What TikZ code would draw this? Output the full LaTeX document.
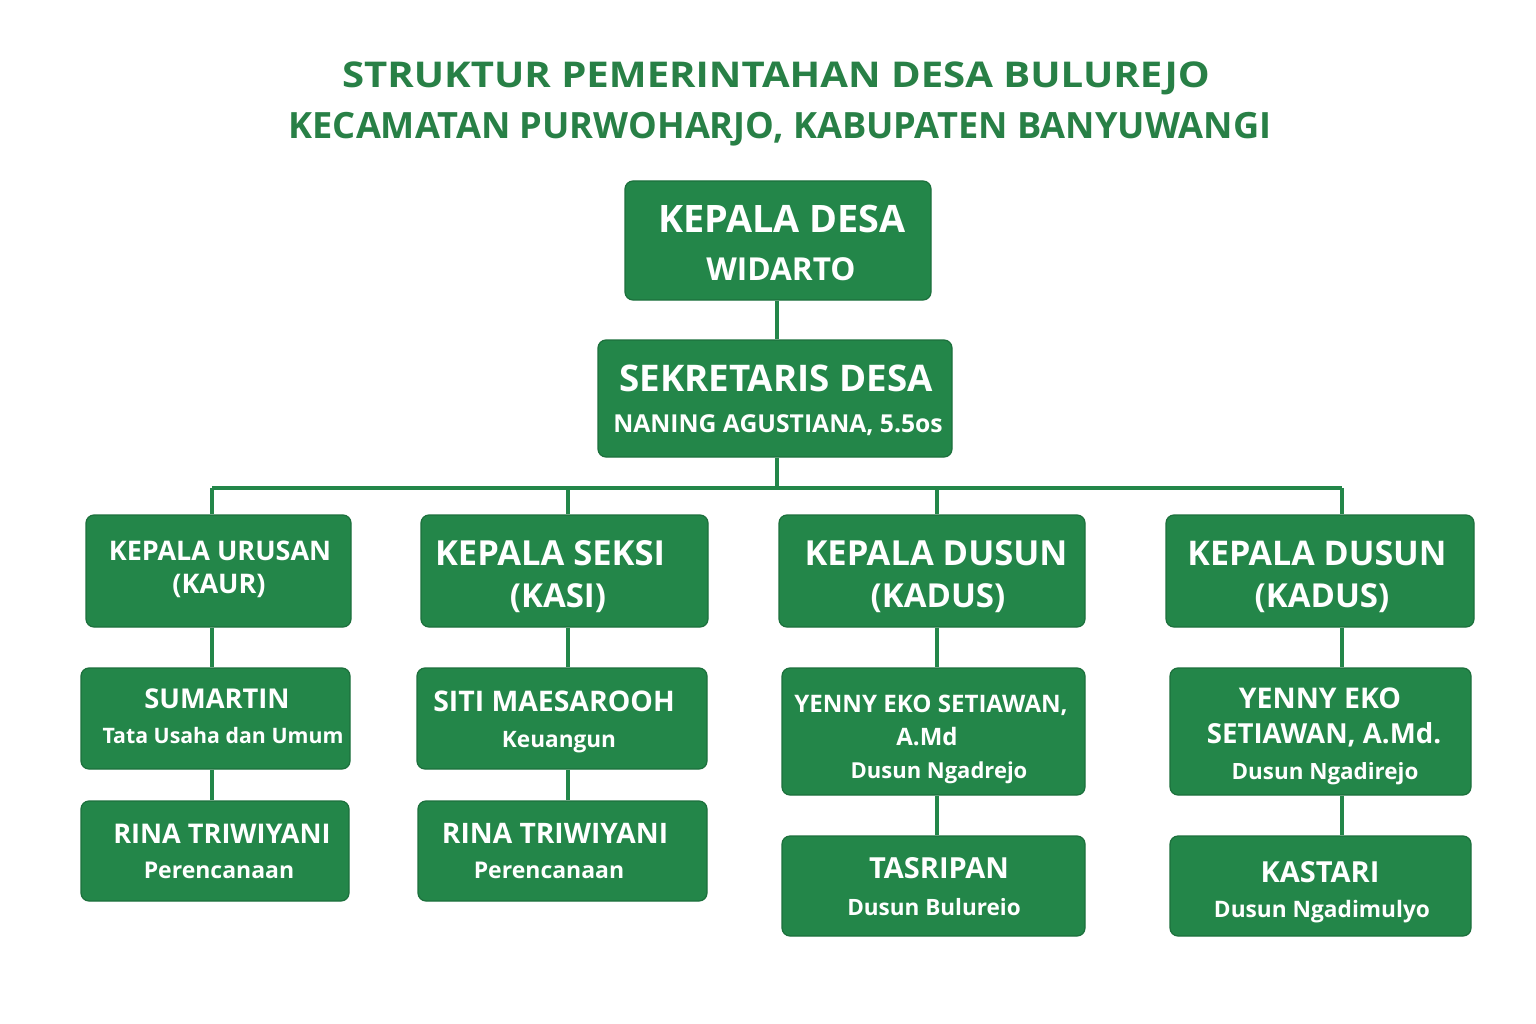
\documentclass[tikz,border=0pt]{standalone}
\usepackage{fontspec}
\usepackage{graphicx}
\setmainfont{Open Sans}
\newfontfamily\titlef{Open Sans}
\newfontfamily\boxf{Open Sans}
\definecolor{boxgreen}{RGB}{35,134,73}
\definecolor{titlegreen}{RGB}{40,128,70}
\definecolor{edgegreen}{RGB}{28,112,60}
\newcommand{\fs}[1]{\fontsize{#1}{#1}\selectfont}
\begin{document}
\begin{tikzpicture}[x=1pt,y=-1pt,
  orgbox/.style={fill=boxgreen,draw=edgegreen,line width=1.2pt,rounded corners=8pt,inner sep=0pt},
  lbl/.style={text=white,anchor=base,inner sep=0pt,font=\boxf\bfseries},
  ttl/.style={text=titlegreen,anchor=base,inner sep=0pt},
  conn/.style={draw=boxgreen,line width=4pt}]
\useasboundingbox[fill=white] (0,0) rectangle (1536,1024);
% title
\node[ttl,font=\titlef\bfseries\fs{35.5}] (t1) at (776,87.5) {\scalebox{1.13}[1]{STRUKTUR PEMERINTAHAN DESA BULUREJO}};
\node[ttl,font=\titlef\bfseries\fs{36.2}] (t2) at (780,138.5) {KECAMATAN PURWOHARJO, KABUPATEN BANYUWANGI};
% column coordinates
\coordinate (c0) at (777,488);
\coordinate (c1) at (212,488);
\coordinate (c2) at (568,488);
\coordinate (c3) at (937,488);
\coordinate (c4) at (1342,488);
% connectors (drawn first)
\path[conn] (c1) -- (c4);
% boxes
\node[orgbox,minimum width=306,minimum height=119] (kd) at (778,240.5) {};
\node[orgbox,minimum width=354,minimum height=117] (sd) at (775,398.5) {};
\node[orgbox,minimum width=265,minimum height=112] (kaur) at (218.5,571) {};
\node[orgbox,minimum width=287,minimum height=112] (kasi) at (564.5,571) {};
\node[orgbox,minimum width=306,minimum height=112] (kad1) at (932,571) {};
\node[orgbox,minimum width=308,minimum height=112] (kad2) at (1320,571) {};
\node[orgbox,minimum width=269,minimum height=101] (sum) at (215.5,718.5) {};
\node[orgbox,minimum width=290,minimum height=101] (siti) at (562,718.5) {};
\node[orgbox,minimum width=303,minimum height=127] (yen1) at (933.5,731.5) {};
\node[orgbox,minimum width=301,minimum height=127] (yen2) at (1320.5,731.5) {};
\node[orgbox,minimum width=268,minimum height=100] (rina1) at (215,851) {};
\node[orgbox,minimum width=289,minimum height=100] (rina2) at (562.5,851) {};
\node[orgbox,minimum width=303,minimum height=100] (tas) at (933.5,886) {};
\node[orgbox,minimum width=301,minimum height=100] (kas) at (1320.5,886) {};
% connectors
\path[conn] (kd.south -| c0) -- (sd.north -| c0);
\path[conn] (sd.south -| c0) -- (c0);
\path[conn] (c1) -- (c1 |- kaur.north);
\path[conn] (c2) -- (c2 |- kasi.north);
\path[conn] (c3) -- (c3 |- kad1.north);
\path[conn] (c4) -- (c4 |- kad2.north);
\path[conn] (c1 |- kaur.south) -- (c1 |- sum.north);
\path[conn] (c2 |- kasi.south) -- (c2 |- siti.north);
\path[conn] (c3 |- kad1.south) -- (c3 |- yen1.north);
\path[conn] (c4 |- kad2.south) -- (c4 |- yen2.north);
\path[conn] (c1 |- sum.south) -- (c1 |- rina1.north);
\path[conn] (c2 |- siti.south) -- (c2 |- rina2.north);
\path[conn] (c3 |- yen1.south) -- (c3 |- tas.north);
\path[conn] (c4 |- yen2.south) -- (c4 |- kas.north);
% labels
\node[lbl,font=\boxf\bfseries\fs{37.8}] (kd1) at (782,233) {KEPALA DESA};
\node[lbl,font=\boxf\bfseries\fs{31.6}] (kd2) at (781,280) {WIDARTO};
\node[lbl,font=\boxf\bfseries\fs{36.7}] (sd1) at (776,391) {SEKRETARIS DESA};
\node[lbl,font=\boxf\bfseries\fs{24.7}] (sd2) at (778,432) {NANING AGUSTIANA, 5.5os};
\node[lbl,font=\boxf\bfseries\fs{27}] (kaur1) at (220,560) {KEPALA URUSAN};
\node[lbl,font=\boxf\bfseries\fs{27}] (kaur2) at (219,593) {(KAUR)};
\node[lbl,font=\boxf\bfseries\fs{34.5}] (kasi1) at (550,565) {KEPALA SEKSI};
\node[lbl,font=\boxf\bfseries\fs{33}] (kasi2) at (558,607) {(KASI)};
\node[lbl,font=\boxf\bfseries\fs{34.5}] (kad11) at (936,565) {KEPALA DUSUN};
\node[lbl,font=\boxf\bfseries\fs{33}] (kad12) at (938,607) {(KADUS)};
\node[lbl,font=\boxf\bfseries\fs{34}] (kad21) at (1317,565) {KEPALA DUSUN};
\node[lbl,font=\boxf\bfseries\fs{33}] (kad22) at (1322,607) {(KADUS)};
\node[lbl,font=\boxf\bfseries\fs{27.3}] (sum1) at (217,708) {SUMARTIN};
\node[lbl,font=\boxf\bfseries\fs{21.3}] (sum2) at (223,743) {Tata Usaha dan Umum};
\node[lbl,font=\boxf\bfseries\fs{28.4}] (siti1) at (554,711) {SITI MAESAROOH};
\node[lbl,font=\boxf\bfseries\fs{22.6}] (siti2) at (559,747) {Keuangun};
\node[lbl,font=\boxf\bfseries\fs{24.1}] (yen11) at (931,712) {YENNY EKO SETIAWAN,};
\node[lbl,font=\boxf\bfseries\fs{24}] (yen12) at (927,745) {A.Md};
\node[lbl,font=\boxf\bfseries\fs{22}] (yen13) at (939,778) {Dusun Ngadrejo};
\node[lbl,font=\boxf\bfseries\fs{28.5}] (yen21) at (1320,708) {YENNY EKO};
\node[lbl,font=\boxf\bfseries\fs{27.6}] (yen22) at (1324,743) {SETIAWAN, A.Md.};
\node[lbl,font=\boxf\bfseries\fs{22.4}] (yen23) at (1325,779) {Dusun Ngadirejo};
\node[lbl,font=\boxf\bfseries\fs{27.1}] (rina11) at (222,843) {RINA TRIWIYANI};
\node[lbl,font=\boxf\bfseries\fs{23}] (rina12) at (219,878) {Perencanaan};
\node[lbl,font=\boxf\bfseries\fs{28.2}] (rina21) at (555,843) {RINA TRIWIYANI};
\node[lbl,font=\boxf\bfseries\fs{23}] (rina22) at (549,878) {Perencanaan};
\node[lbl,font=\boxf\bfseries\fs{29}] (tas1) at (939,878) {TASRIPAN};
\node[lbl,font=\boxf\bfseries\fs{22.5}] (tas2) at (934,915) {Dusun Bulureio};
\node[lbl,font=\boxf\bfseries\fs{29}] (kas1) at (1320,882) {KASTARI};
\node[lbl,font=\boxf\bfseries\fs{22.7}] (kas2) at (1322,917) {Dusun Ngadimulyo};
\end{tikzpicture}
\end{document}
